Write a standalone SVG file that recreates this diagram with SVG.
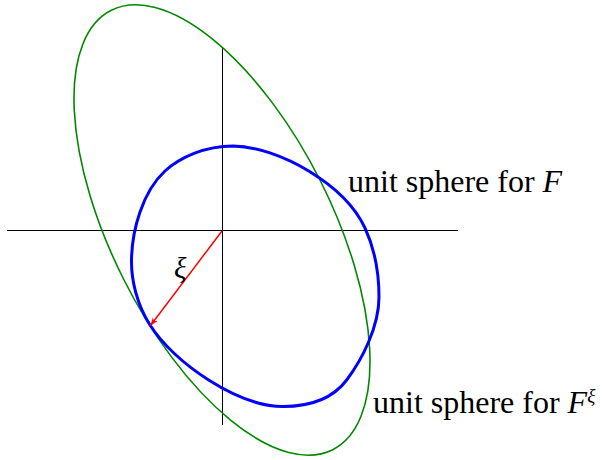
<svg xmlns="http://www.w3.org/2000/svg" width="603" height="460" viewBox="0 0 603 460">
<style>
.axis{stroke:#000;stroke-width:1;fill:none}
.lbl{font-family:"Liberation Serif","Times New Roman",serif;fill:#000}
.it{font-style:italic}
</style>
<defs>
<marker id="ah" markerUnits="userSpaceOnUse" markerWidth="12" markerHeight="10" viewBox="-9 -5 12 10" refX="0" refY="0" orient="auto">
<path d="M0,0 L-8,-3 L-5.5,0 L-8,3 z" fill="#ff0000"/>
</marker>
</defs>
<rect width="603" height="460" fill="#fff"/>
<g id="axes">
<line class="axis" x1="7" y1="230.5" x2="458" y2="230.5"/>
<line class="axis" x1="222.5" y1="47" x2="222.5" y2="425"/>
</g>
<g id="unit-sphere-F-xi">
<ellipse cx="222" cy="230" rx="246" ry="110" transform="rotate(63.25 222 230)" fill="none" stroke="#008800" stroke-width="1.6"/>
</g>
<g id="unit-sphere-F">
<path d="M233,146 C280,147 345,185 365,228 C375.5,250.75 379,272 379,297 C379,327 361.7,360 346.7,380 C331.7,400 308,406.5 283,406.5 C238,406.5 174,363 150,325 C136.6,303.9 131.5,280 131.5,262 C131.5,230 142.8,191.4 165,171 C179.8,157.4 205,146 233,146 Z" fill="none" stroke="#0000ff" stroke-width="3"/>
</g>
<g id="connectors">
<line x1="222" y1="231" x2="150.5" y2="325.5" stroke="#ff0000" stroke-width="1.5" marker-end="url(#ah)"/>
</g>
<g id="labels">
<text class="lbl it" x="174" y="278" font-size="29">ξ</text>
<text class="lbl" x="348" y="192" font-size="32">unit sphere for <tspan class="it">F</tspan></text>
<text class="lbl" x="373" y="413" font-size="32">unit sphere for <tspan class="it">F</tspan><tspan class="it" font-size="19" dy="-11">ξ</tspan></text>
</g>
</svg>
